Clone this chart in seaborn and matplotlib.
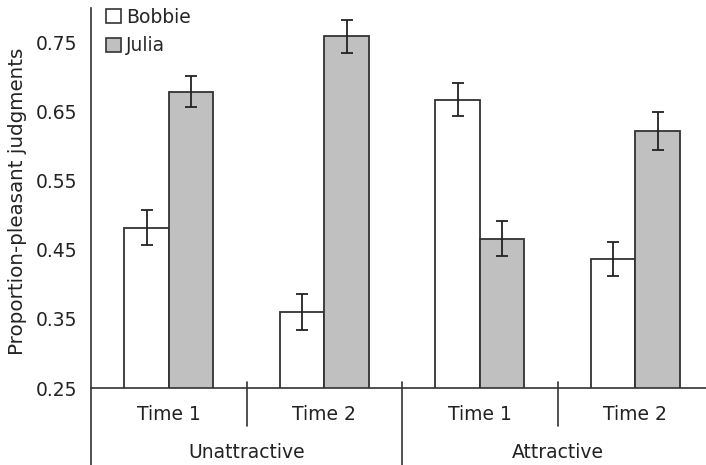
import pandas as pd
import matplotlib
matplotlib.use("Agg")
import matplotlib.pyplot as plt
import matplotlib.transforms as mtransforms
from matplotlib.patches import Patch
import seaborn as sns

# data
conditions = ["Unattractive", "Unattractive", "Attractive", "Attractive"]
times = ["Time 1", "Time 2", "Time 1", "Time 2"]
bobbie = [0.482, 0.360, 0.667, 0.437]
julia = [0.679, 0.759, 0.466, 0.622]
bobbie_err = [0.025, 0.026, 0.024, 0.025]
julia_err = [0.023, 0.024, 0.025, 0.028]

groups = [f"{c} {t}" for c, t in zip(conditions, times)]
df = pd.DataFrame({
    "group": groups * 2,
    "speaker": ["Bobbie"] * 4 + ["Julia"] * 4,
    "value": bobbie + julia,
    "err": bobbie_err + julia_err,
})

sns.set_style("white")
plt.rcParams["font.family"] = ["DejaVu Sans"]

fig = plt.figure(figsize=(7.06, 4.65), dpi=100)
ax = fig.add_axes([91 / 706, 77 / 465, 615 / 706, 380 / 465])

palette = {"Bobbie": "white", "Julia": "#c0c0c0"}
sns.barplot(data=df, x="group", y="value", hue="speaker", order=groups,
            hue_order=["Bobbie", "Julia"], palette=palette, width=0.573,
            errorbar=None, edgecolor="#333333", linewidth=1.3, ax=ax,
            legend=False)

# error bars at bar centres
for cont, speaker in zip(ax.containers, ["Bobbie", "Julia"]):
    sub = df[df["speaker"] == speaker]
    xs = [p.get_x() + p.get_width() / 2 for p in cont.patches]
    ax.errorbar(xs, sub["value"], yerr=sub["err"], fmt="none", ecolor="#222222",
                elinewidth=1.3, capsize=4, capthick=1.3, zorder=5)

ax.set_ylim(0.25, 0.80)
ax.set_xlim(-0.5016, 3.455)
ax.set_yticks([0.25, 0.35, 0.45, 0.55, 0.65, 0.75])
ax.set_yticklabels(["0.25", "0.35", "0.45", "0.55", "0.65", "0.75"])
ax.set_xticks(range(4))
ax.set_xticklabels(times)
ax.tick_params(axis="y", length=0, pad=10, labelsize=13.5, colors="#222222")
ax.tick_params(axis="x", length=0, pad=12, labelsize=13.5, colors="#222222")
ax.set_xlabel("")
ax.set_ylabel("Proportion-pleasant judgments", fontsize=14.3, color="#222222")
ax.yaxis.set_label_coords(-0.104, 0.49)

sns.despine(ax=ax)
for s in ["left", "bottom"]:
    ax.spines[s].set_color("#333333")
    ax.spines[s].set_linewidth(1.2)

# category separators below the axis
trans = mtransforms.blended_transform_factory(ax.transData, ax.transAxes)
for x in [0.5, 2.5]:
    ax.plot([x, x], [0.017, -0.1], transform=trans, color="#333333", lw=1.2, clip_on=False)
ax.plot([1.5, 1.5], [0.017, -0.21], transform=trans, color="#333333", lw=1.2, clip_on=False)
ax.plot([-0.5016, -0.5016], [0, -0.21], transform=trans, color="#333333", lw=1.2, clip_on=False)
ax.text(0.5, -0.17, "Unattractive", transform=trans, ha="center", va="center",
        fontsize=13.5, color="#222222")
ax.text(2.5, -0.17, "Attractive", transform=trans, ha="center", va="center",
        fontsize=13.5, color="#222222")

handles = [Patch(facecolor="white", edgecolor="#333333", lw=1.2, label="Bobbie"),
           Patch(facecolor="#c0c0c0", edgecolor="#333333", lw=1.2, label="Julia")]
ax.legend(handles=handles, loc="upper left", bbox_to_anchor=(0.013, 1.02), frameon=False,
          fontsize=13.5, handlelength=0.75, handleheight=0.75, handletextpad=0.3,
          labelspacing=0.5, borderaxespad=0)

fig.savefig("out.png", dpi=100)
